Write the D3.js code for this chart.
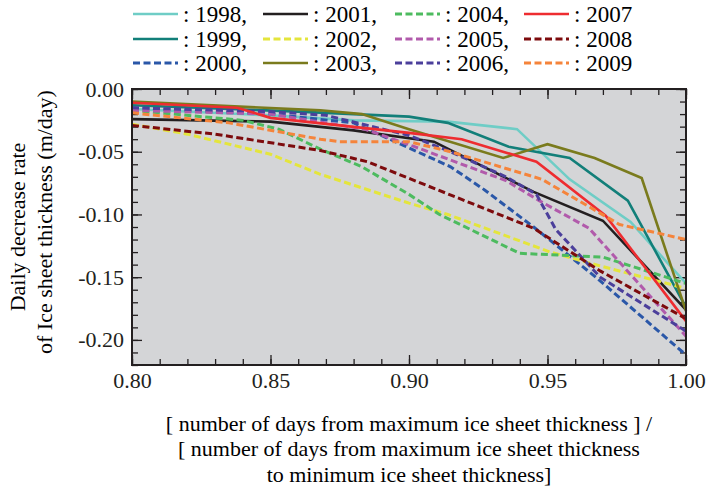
<!DOCTYPE html>
<html>
<head>
<meta charset="utf-8">
<script src="https://cdn.jsdelivr.net/npm/d3@7"></script>
</head>
<body style="margin:0">
<script>
// Series: [x, rate]
const s1998 = [[0.80, -0.016], [0.85, -0.021], [0.88, -0.025], [0.914, -0.026], [0.939, -0.032], [0.958, -0.072], [0.98, -0.106], [1.00, -0.155]];
const s1999 = [[0.80, -0.013], [0.86, -0.018], [0.90, -0.022], [0.914, -0.027], [0.936, -0.046], [0.958, -0.055], [0.979, -0.089], [1.00, -0.174]];
const s2000 = [[0.80, -0.015], [0.85, -0.020], [0.88, -0.027], [0.897, -0.044], [0.915, -0.062], [0.927, -0.080], [0.945, -0.110], [0.968, -0.151], [1.00, -0.212]];
const s2001 = [[0.80, -0.024], [0.85, -0.026], [0.88, -0.033], [0.909, -0.042], [0.936, -0.072], [0.945, -0.082], [0.970, -0.105], [1.00, -0.176]];
const s2002 = [[0.80, -0.028], [0.82, -0.036], [0.85, -0.052], [0.868, -0.068], [0.90, -0.091], [0.914, -0.100], [0.951, -0.130], [0.969, -0.141], [1.00, -0.159]];
const s2003 = [[0.80, -0.010], [0.868, -0.017], [0.883, -0.020], [0.900, -0.032], [0.934, -0.055], [0.950, -0.044], [0.967, -0.055], [0.984, -0.071], [1.00, -0.177]];
const s2004 = [[0.80, -0.017], [0.84, -0.025], [0.853, -0.032], [0.868, -0.048], [0.883, -0.062], [0.90, -0.084], [0.911, -0.100], [0.94, -0.131], [0.97, -0.134], [1.00, -0.155]];
const s2005 = [[0.80, -0.017], [0.85, -0.020], [0.884, -0.032], [0.902, -0.046], [0.935, -0.073], [0.947, -0.089], [0.965, -0.111], [1.00, -0.197]];
const s2006 = [[0.80, -0.015], [0.85, -0.018], [0.87, -0.021], [0.90, -0.037], [0.915, -0.050], [0.935, -0.070], [0.946, -0.084], [0.953, -0.112], [0.969, -0.150], [1.00, -0.193]];
const s2007 = [[0.80, -0.011], [0.838, -0.015], [0.85, -0.023], [0.90, -0.035], [0.919, -0.040], [0.946, -0.058], [0.971, -0.101], [1.00, -0.185]];
const s2008 = [[0.80, -0.029], [0.83, -0.036], [0.868, -0.049], [0.885, -0.058], [0.919, -0.088], [0.945, -0.111], [0.969, -0.145], [1.00, -0.183]];
const s2009 = [[0.80, -0.019], [0.835, -0.027], [0.868, -0.040], [0.875, -0.042], [0.90, -0.042], [0.915, -0.050], [0.948, -0.072], [0.976, -0.108], [1.00, -0.120]];

const years = ['1998', '1999', '2000', '2001', '2002', '2003', '2004', '2005', '2006', '2007', '2008', '2009'];
const seriesValues = [s1998, s1999, s2000, s2001, s2002, s2003, s2004, s2005, s2006, s2007, s2008, s2009];
const colors = ['#6fcdc6', '#127f79', '#2a57a8', '#231f20', '#e4e53c', '#7a7b1d', '#4dbb5f', '#b15aab', '#4b3f9b', '#ee2c30', '#7d0b0d', '#f5843b'];
const dashed = [false, false, true, false, true, false, true, true, true, false, true, true];

const xTicks = [0.80, 0.85, 0.90, 0.95, 1.00];
const yTicks = [0.00, -0.05, -0.10, -0.15, -0.20];

const width = 708, height = 494;
const margin = { top: 89, right: 22, bottom: 129, left: 132 };
const innerW = width - margin.left - margin.right;
const innerH = height - margin.top - margin.bottom;

// Serif text helper
function serif(sel, size) {
    return sel.style('font-family', "'Times New Roman'").style('font-size', size + 'px');
}

const svg = d3.select('body')
    .append('svg')
    .attr('width', width)
    .attr('height', height);

const x = d3.scaleLinear().domain([0.80, 1.00]).range([0, innerW]);
const y = d3.scaleLinear().domain([-0.22, 0.00]).range([innerH, 0]);

const g = svg.append('g').attr('transform', `translate(${margin.left},${margin.top})`);

// Plot background
g.append('rect')
    .attr('width', innerW)
    .attr('height', innerH)
    .attr('fill', '#d4d5d7');

// Minor ticks every 0.01
const xMinor = d3.range(0, 21).map(i => 0.80 + i * 0.01);
const yMinor = d3.range(0, 23).map(i => -i * 0.01);
const fmt = d => d3.format('.2f')(d).replace('\u2212', '-');

function styleAxis(sel) {
    sel.attr('font-family', null).attr('font-size', null);
    sel.select('.domain').remove();
    sel.selectAll('line').attr('stroke', '#231f20').attr('stroke-width', 1.3);
    serif(sel.selectAll('text'), 22).attr('fill', '#231f20');
}

// Bottom
g.append('g').attr('transform', `translate(0,${innerH})`)
    .call(d3.axisBottom(x).tickValues(xMinor).tickSize(-6).tickFormat(''))
    .call(styleAxis);
g.append('g').attr('transform', `translate(0,${innerH})`)
    .call(d3.axisBottom(x).tickValues(xTicks).tickSize(-10).tickPadding(7).tickFormat(fmt))
    .call(styleAxis);
// Top
g.append('g')
    .call(d3.axisTop(x).tickValues(xMinor).tickSize(-6).tickFormat(''))
    .call(styleAxis);
g.append('g')
    .call(d3.axisTop(x).tickValues(xTicks).tickSize(-10).tickFormat(''))
    .call(styleAxis);
// Left
g.append('g')
    .call(d3.axisLeft(y).tickValues(yMinor).tickSize(-6).tickFormat(''))
    .call(styleAxis);
g.append('g')
    .call(d3.axisLeft(y).tickValues(yTicks).tickSize(-10).tickPadding(8).tickFormat(fmt))
    .call(styleAxis);
// Right
g.append('g').attr('transform', `translate(${innerW},0)`)
    .call(d3.axisRight(y).tickValues(yMinor).tickSize(-6).tickFormat(''))
    .call(styleAxis);
g.append('g').attr('transform', `translate(${innerW},0)`)
    .call(d3.axisRight(y).tickValues(yTicks).tickSize(-10).tickFormat(''))
    .call(styleAxis);

// Series lines
const line = d3.line().x(d => x(d[0])).y(d => y(d[1]));

g.append('g')
    .selectAll('path')
    .data(seriesValues)
    .enter()
    .append('path')
    .attr('d', line)
    .attr('fill', 'none')
    .attr('stroke', (d, i) => colors[i])
    .attr('stroke-width', (d, i) => dashed[i] ? 3 : 2.6)
    .attr('stroke-dasharray', (d, i) => dashed[i] ? '7,3.5' : null);

// Frame
g.append('rect')
    .attr('width', innerW)
    .attr('height', innerH)
    .attr('fill', 'none')
    .attr('stroke', '#231f20')
    .attr('stroke-width', 2);

// Legend: 4 columns x 3 rows
const legendCols = [133, 263, 395, 524];
const legendRows = [14, 39, 63];
years.forEach((yr, i) => {
    const col = Math.floor(i / 3), row = i % 3;
    const lx = legendCols[col], ly = legendRows[row];
    svg.append('line')
        .attr('x1', lx).attr('x2', lx + 45)
        .attr('y1', ly).attr('y2', ly)
        .attr('stroke', colors[i])
        .attr('stroke-width', dashed[i] ? 3 : 2.6)
        .attr('stroke-dasharray', dashed[i] ? '7,3.5' : null);
    serif(svg.append('text'), 23)
        .attr('x', lx + 50)
        .attr('y', ly + 8)
        .text(': ' + yr + (col < 3 ? ',' : ''));
});

// Y axis title
const yc = margin.top + innerH / 2;
serif(svg.append('text'), 22)
    .attr('transform', `translate(25,${yc}) rotate(-90)`)
    .attr('text-anchor', 'middle')
    .text('Daily decrease rate');
serif(svg.append('text'), 22)
    .attr('transform', `translate(52,${yc - 5}) rotate(-90)`)
    .attr('text-anchor', 'middle')
    .text('of Ice sheet thickness (m/day)');

// X axis title
const xc = margin.left + innerW / 2;
const xTitleLines = ['[ number of days from maximum ice sheet thickness ] /',
    '[ number of days from maximum ice sheet thickness',
    'to minimum ice sheet thickness]'];
const xTitleY = [431, 456, 482];
xTitleLines.forEach((t, i) => {
    serif(svg.append('text'), 22)
        .attr('x', xc)
        .attr('y', xTitleY[i])
        .attr('text-anchor', 'middle')
        .text(t);
});
</script>
</body>
</html>
